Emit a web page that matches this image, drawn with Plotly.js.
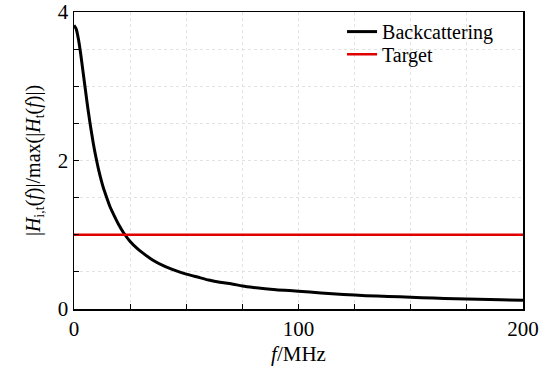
<!DOCTYPE html>
<html>
<head>
<meta charset="utf-8">
<script src="https://cdn.plot.ly/plotly-3.0.1.min.js"></script>
<style>html,body{margin:0;padding:0;background:#fff;}#chart{width:541px;height:372px;}</style>
</head>
<body>
<div id="chart"></div>
<script>
var freq = [0, 1, 2, 3, 4, 5, 6, 7, 8, 9, 10, 11, 12, 13, 14, 16, 18, 20, 22, 25, 28, 30, 35, 40, 45, 50, 55, 60, 65, 70, 75, 80, 90, 100, 110, 120, 130, 140, 150, 160, 170, 180, 190, 200];
var backscatter = [3.82, 3.77, 3.63, 3.43, 3.20, 2.97, 2.74, 2.53, 2.34, 2.16, 2.01, 1.87, 1.75, 1.64, 1.55, 1.38, 1.25, 1.13, 1.03, 0.91, 0.82, 0.77, 0.66, 0.58, 0.52, 0.47, 0.43, 0.39, 0.36, 0.34, 0.31, 0.29, 0.26, 0.24, 0.215, 0.195, 0.18, 0.17, 0.157, 0.147, 0.138, 0.13, 0.123, 0.117];
var targetFreq = [0, 200];
var targetVal = [1, 1];
var xTickVals = [0, 25, 50, 75, 100, 125, 150, 175, 200];
var xTickText = ['0', '', '', '', '100', '', '', '', '200'];
var yTickVals = [0, 0.5, 1, 1.5, 2, 2.5, 3, 3.5, 4];
var yTickText = ['0', '', '', '', '2', '', '', '', '4'];

var font = '"Times New Roman", "Liberation Serif", serif';
var traces = [
  {x: freq, y: backscatter, type: 'scatter', mode: 'lines', name: 'Backcattering', legend: 'legend',
   line: {color: '#000000', width: 3, shape: 'spline', smoothing: 0.6}},
  {x: targetFreq, y: targetVal, type: 'scatter', mode: 'lines', name: 'Target', legend: 'legend2',
   line: {color: '#e00000', width: 2.5}}
];
var legStyle = function (yy) {
  return {x: 0.597, y: yy, xanchor: 'left', yanchor: 'middle', bgcolor: 'rgba(0,0,0,0)',
          font: {family: font, size: 20}, tracegroupgap: 0, itemwidth: 30};
};
var layout = {
  width: 541, height: 372,
  margin: {l: 74, r: 18, t: 12, b: 63},
  paper_bgcolor: '#fff', plot_bgcolor: '#fff',
  font: {family: font, color: '#000', size: 20},
  showlegend: true,
  legend: legStyle(0.934),
  legend2: legStyle(0.858),
  xaxis: {
    range: [0, 200], tickmode: 'array', tickvals: xTickVals, ticktext: xTickText,
    ticks: 'inside', ticklen: 5, tickwidth: 1.2, tickcolor: '#000',
    showline: true, linecolor: '#000', linewidth: 1.5, mirror: true,
    showgrid: true, gridcolor: '#e2e2e2', griddash: 'dot', gridwidth: 1,
    zeroline: false, tickfont: {family: font, size: 21},
    title: {text: '<i>f</i>/MHz', font: {family: font, size: 21}, standoff: 6}
  },
  yaxis: {
    range: [0, 4], tickmode: 'array', tickvals: yTickVals, ticktext: yTickText,
    ticks: 'inside', ticklen: 5, tickwidth: 1.2, tickcolor: '#000',
    showline: true, linecolor: '#000', linewidth: 1.5, mirror: true,
    showgrid: true, gridcolor: '#e2e2e2', griddash: 'dot', gridwidth: 1,
    zeroline: false, tickfont: {family: font, size: 21},
    title: {text: '|<i>H</i><sub>i,t</sub>(<i>f</i>)|/max(|<i>H</i><sub>t</sub>(<i>f</i>)|)', font: {family: font, size: 20}, standoff: 12}
  }
};
Plotly.newPlot('chart', traces, layout, {displayModeBar: false, staticPlot: true});
</script>
</body>
</html>
